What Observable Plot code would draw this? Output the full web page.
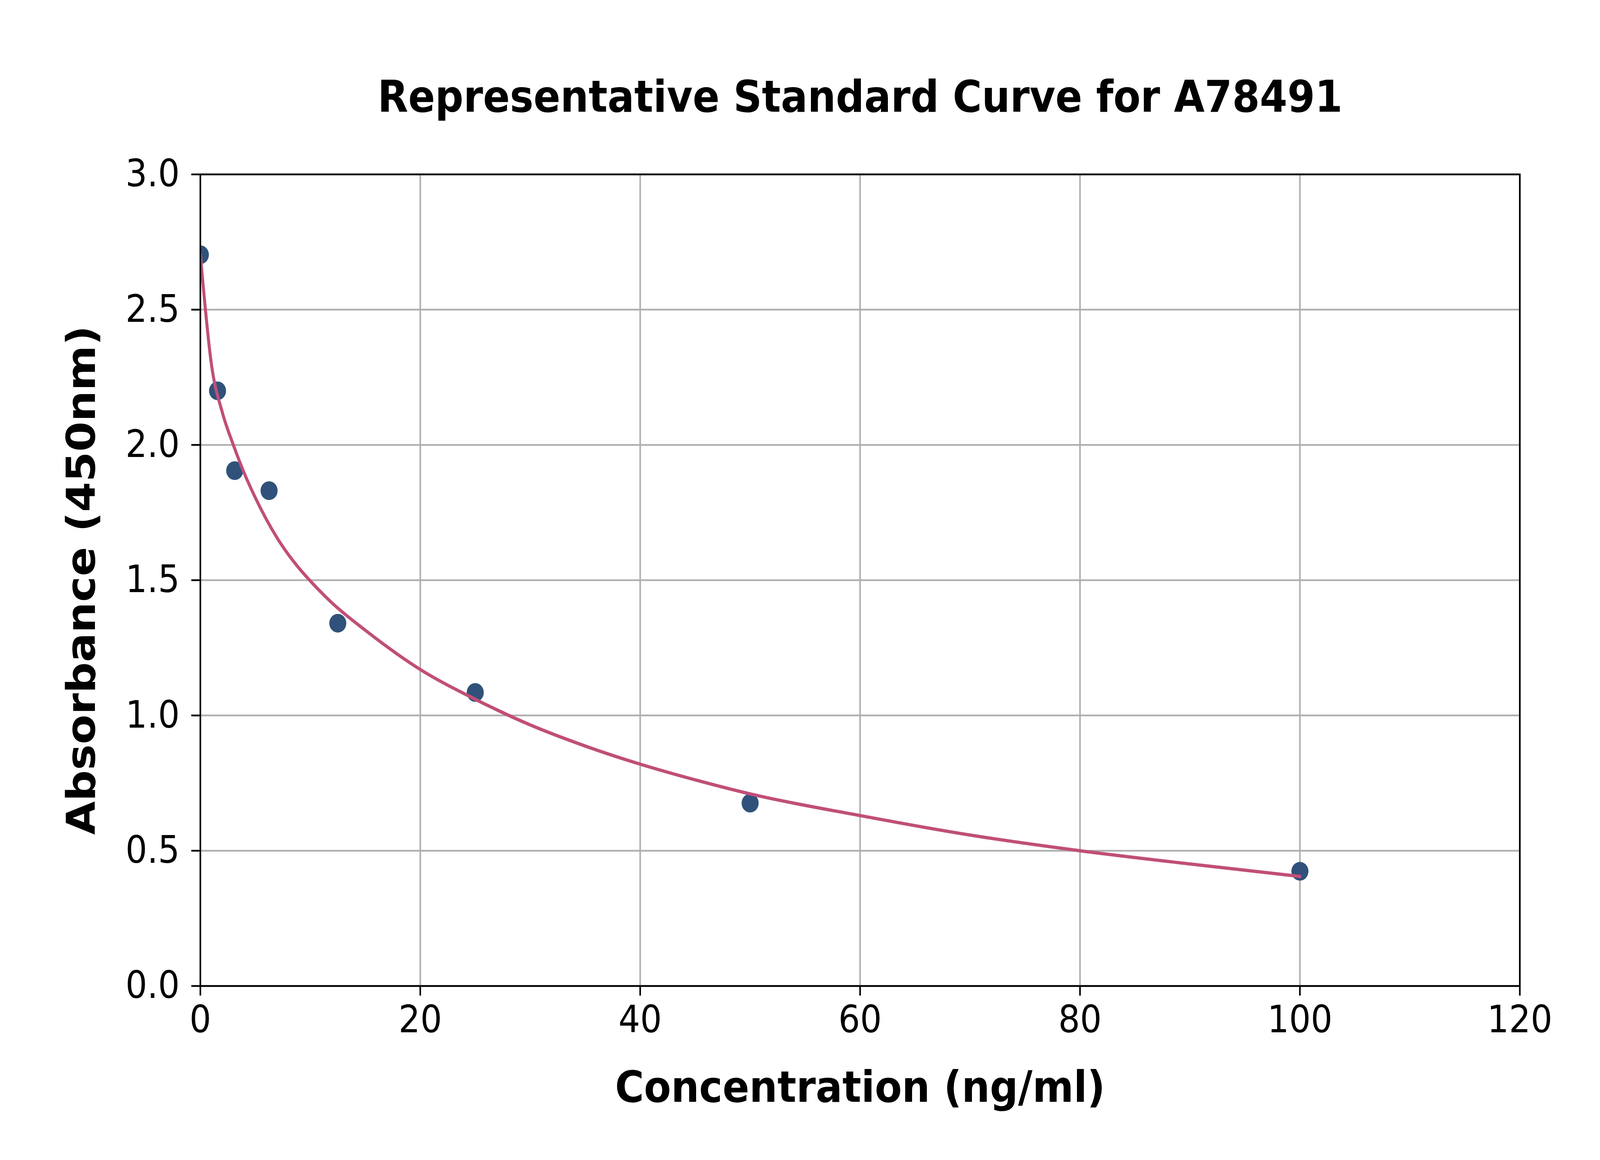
<!DOCTYPE html>
<html>
<head>
<meta charset="utf-8">
<script src="https://cdn.jsdelivr.net/npm/d3@7"></script>
<script src="https://cdn.jsdelivr.net/npm/@observablehq/plot@0.6"></script>
<style>
  html, body { margin: 0; padding: 0; background: #ffffff; overflow: hidden; }
  #chart { width: 100vw; height: 100vh; overflow: hidden; }
  #chart svg { display: block; }
</style>
</head>
<body>
<div id="chart"></div>
<script>
// Standard points
const stdConc = [0, 1.5625, 3.125, 6.25, 12.5, 25, 50, 100];
const stdAbs  = [2.703, 2.200, 1.905, 1.831, 1.341, 1.085, 0.676, 0.424];

// Fitted curve
const fitConc = [0, 1, 2, 3, 4, 5, 6, 7, 8, 9, 10, 12, 15, 20, 25, 30, 35, 40, 45, 50, 60, 70, 80, 90, 100];
const fitAbs  = [2.705, 2.30, 2.12, 2.00, 1.895, 1.805, 1.725, 1.655, 1.595, 1.543, 1.497, 1.415, 1.315, 1.17, 1.06, 0.965, 0.887, 0.82, 0.762, 0.71, 0.63, 0.558, 0.50, 0.451, 0.405];

// Axis ticks
const xTicks = [0, 20, 40, 60, 80, 100, 120];
const yTicks = [0, 0.5, 1.0, 1.5, 2.0, 2.5, 3.0];

const titleText = "Representative Standard Curve for A78491";
const xLabel = "Concentration (ng/ml)";
const yLabel = "Absorbance (450nm)";

const points = stdConc.map((c, i) => ({conc: c, abs: stdAbs[i]}));
const curve = fitConc.map((c, i) => ({conc: c, abs: fitAbs[i]}));

const chart = Plot.plot({
  width: 4500,
  height: 2970,
  marginLeft: 563,
  marginRight: 226,
  marginTop: 446,
  marginBottom: 446,
  style: {fontFamily: "DejaVu Sans", fontSize: "96px", color: "#000000", background: "#ffffff"},
  x: {domain: [0, 120], label: null},
  y: {domain: [0, 3], label: null},
  marks: [
    Plot.gridX(xTicks, {stroke: "#b0b0b0", strokeOpacity: 1, strokeWidth: 4.5}),
    Plot.gridY(yTicks, {stroke: "#b0b0b0", strokeOpacity: 1, strokeWidth: 4.5}),
    Plot.dot(points, {x: "conc", y: "abs", r: 24, fill: "#30527a", stroke: "none", clip: true}),
    Plot.line(curve, {x: "conc", y: "abs", stroke: "#c04f78", strokeWidth: 8.5, curve: "monotone-x", clip: true}),
    Plot.axisX({ticks: xTicks, tickSize: 25, tickPadding: 25, strokeWidth: 4.5, fontSize: 96, label: null, tickFormat: d3.format("d")}),
    Plot.axisY({ticks: yTicks, tickSize: 25, tickPadding: 33, strokeWidth: 4.5, fontSize: 96, label: null, tickFormat: d3.format(".1f")}),
    Plot.frame({stroke: "#000000", strokeWidth: 4.5}),
    Plot.text([titleText], {text: d => d, frameAnchor: "top", dy: -161, textAnchor: "middle", lineAnchor: "bottom", fontSize: 111.5, fontWeight: "bold", fill: "#000000"}),
    Plot.text([xLabel], {text: d => d, frameAnchor: "bottom", dy: 296, textAnchor: "middle", lineAnchor: "bottom", fontSize: 111, fontWeight: "bold", fill: "#000000"}),
    Plot.text([yLabel], {text: d => d, frameAnchor: "left", dx: -297, rotate: -90, textAnchor: "middle", lineAnchor: "bottom", fontSize: 111, fontWeight: "bold", fill: "#000000"})
  ]
});

// Fill the actual viewport exactly, keeping the 4500x2970 layout proportions
chart.setAttribute("preserveAspectRatio", "none");
chart.style.width = "100vw";
chart.style.height = "100vh";
chart.style.maxWidth = "none";

document.getElementById("chart").appendChild(chart);
</script>
</body>
</html>
